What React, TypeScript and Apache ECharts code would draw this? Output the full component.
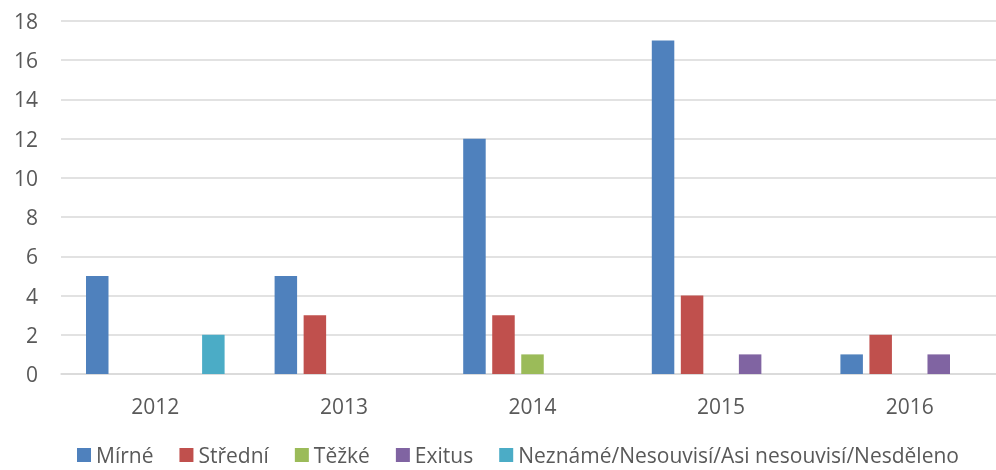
import React, { useEffect, useRef } from "react";
import * as echarts from "echarts";

const categories = ["2012", "2013", "2014", "2015", "2016"];
const seriesNames = ["Mírné", "Střední", "Těžké", "Exitus", "Neznámé/Nesouvisí/Asi nesouvisí/Nesděleno"];
const mirne = [5, 5, 12, 17, 1];
const stredni = [0, 3, 3, 4, 2];
const tezke = [0, 0, 1, 0, 0];
const exitus = [0, 0, 0, 1, 1];
const nezname = [2, 0, 0, 0, 0];
const colors = ["#4F81BD", "#C0504D", "#9BBB59", "#8064A2", "#4BACC6"];

export default function App() {
  const ref = useRef<HTMLDivElement>(null);
  useEffect(() => {
    if (!ref.current) return;
    const chart = echarts.init(ref.current, null, { renderer: "svg" });
    const font = "'Open Sans', 'Noto Sans', sans-serif";
    const data = [mirne, stredni, tezke, exitus, nezname];
    chart.setOption({
      animation: false,
      color: colors,
      textStyle: { fontFamily: font },
      grid: { left: 61, top: 21, width: 943, height: 353, containLabel: false, outerBoundsMode: "none" },
      legend: {
        top: 444,
        left: 77,
        padding: 0,
        itemWidth: 14,
        itemHeight: 14,
        itemGap: 26,
        icon: "rect",
        textStyle: { fontSize: 21, lineHeight: 22, color: "#595959", fontFamily: font },
        data: seriesNames,
      },
      xAxis: {
        type: "category",
        data: categories,
        axisLine: { lineStyle: { color: "#D9D9D9", width: 1.5 } },
        axisTick: { show: false },
        axisLabel: { fontSize: 21, color: "#595959", margin: 21, fontFamily: font },
      },
      yAxis: {
        type: "value",
        min: 0,
        max: 18,
        interval: 2,
        axisLine: { show: false },
        axisTick: { show: false },
        splitLine: { lineStyle: { color: "#D9D9D9", width: 1.5 } },
        axisLabel: { fontSize: 21, color: "#595959", margin: 23, fontFamily: font },
      },
      series: seriesNames.map((name, i) => ({
        name,
        type: "bar",
        data: data[i],
        barWidth: 22.5,
        barGap: "29%",
        itemStyle: { color: colors[i] },
      })),
    });
    return () => chart.dispose();
  }, []);
  return <div ref={ref} style={{ position: "fixed", left: 0, top: 0, width: 996, height: 470 }} />;
}
